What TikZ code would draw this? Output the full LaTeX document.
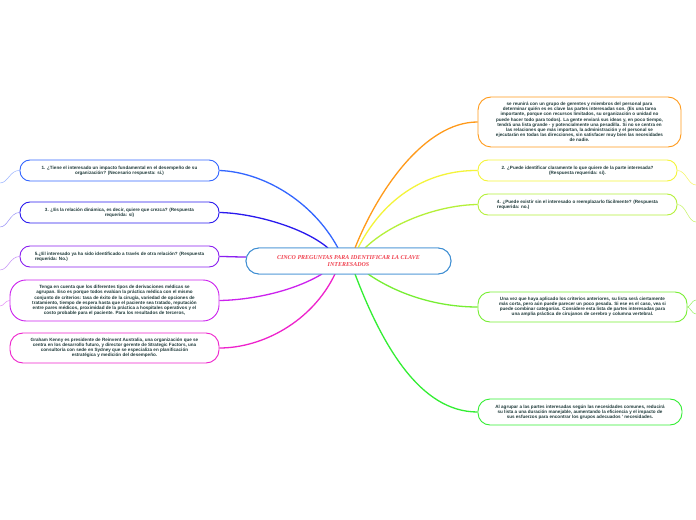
\documentclass[tikz,border=0pt]{standalone}
\usepackage{fontspec}
\setmainfont{Liberation Sans}
\newfontfamily\titlefont{Liberation Serif}
\definecolor{txt}{HTML}{1F3A3A}
\definecolor{cBorder}{HTML}{3C8DD2}
\definecolor{cTitle}{HTML}{F0404E}
\definecolor{cOrange}{HTML}{FF9A1A}
\definecolor{cYellow}{HTML}{F4F43A}
\definecolor{cLime}{HTML}{B5F03A}
\definecolor{cLgreen}{HTML}{77EE33}
\definecolor{cGreen}{HTML}{33EE33}
\definecolor{cBlue}{HTML}{3366FF}
\definecolor{cIndigo}{HTML}{2A1AEE}
\definecolor{cViolet}{HTML}{8A1FF0}
\definecolor{cMagenta}{HTML}{CC22EE}
\definecolor{cPink}{HTML}{EE22CC}
\tikzset{
  topic/.style={draw, rounded corners=10bp, line width=0.9bp, fill=white, inner sep=0pt,
     text=txt, font=\bfseries\fontsize{4.6}{5.2}\selectfont, align=center},
  title/.style={topic, draw=cBorder, minimum width=205bp, minimum height=26bp, rounded corners=13bp,
     font=\titlefont\bfseries\itshape\fontsize{6}{7.6}\selectfont, text=cTitle},
  edge/.style={line width=1.3bp},
  stub/.style={line width=0.5bp, opacity=0.5},
}
\begin{document}
\begin{tikzpicture}[x=1bp,y=-1bp]
\useasboundingbox (0,0) rectangle (696,520);
\fill[white] (0,0) rectangle (696,520);

\coordinate (eO) at (355,248);
\coordinate (eY) at (358,248);
\coordinate (eL) at (365,248);
\coordinate (eB) at (338,248);
\coordinate (eI) at (328,248);
\coordinate (eV) at (246,257);
\coordinate (eM) at (322,274);
\coordinate (eP) at (335,274);
\coordinate (eG) at (355,274);
\coordinate (eLG) at (368,274);

\node[title] (c) at (348.5,261) {CINCO PREGUNTAS PARA IDENTIFICAR LA CLAVE\\INTERESADOS};

\node[topic, draw=cOrange, minimum width=203bp, minimum height=50bp, rounded corners=13bp] (o) at (579.5,122)
  {se reunirá con un grupo de gerentes y miembros del personal para\\
   determinar quién es es clave las partes interesadas son. (Es una tarea\\
   importante, porque con recursos limitados, su organización o unidad no\\
   puede hacer todo para todos). La gente enviará sus ideas y, en poco tiempo,\\
   tendrá una lista grande - y potencialmente una pesadilla. Si no se centra en\\
   las relaciones que más importan, la administración y el personal se\\
   ejecutarán en todas las direcciones, sin satisfacer muy bien las necesidades\\
   de nadie.};

\node[topic, draw=cYellow, minimum width=199bp, minimum height=21bp] (y) at (577.5,170.5)
  {2. ¿Puede identificar claramente lo que quiere de la parte interesada?\\(Respuesta requerida: sí).};

\node[topic, draw=cLime, minimum width=199bp, minimum height=21bp, align=left] (l) at (577.5,204.5)
  {4. ¿Puede existir sin el interesado o reemplazarlo fácilmente? (Respuesta\\requerida: no.)};

\node[topic, draw=cLgreen, minimum width=209bp, minimum height=30bp, rounded corners=12bp] (lg) at (582.5,307)
  {Una vez que haya aplicado los criterios anteriores, su lista será ciertamente\\
   más corta, pero aún puede parecer un poco pesada. Si ese es el caso, vea si\\
   puede combinar categorías. Considere esta lista de partes interesadas para\\
   una amplia práctica de cirujanos de cerebro y columna vertebral.};

\node[topic, draw=cGreen, minimum width=204bp, minimum height=26bp, rounded corners=12bp] (g) at (580,412)
  {Al agrupar a las partes interesadas según las necesidades comunes, reducirá\\
   su lista a una duración manejable, aumentando la eficiencia y el impacto de\\
   sus esfuerzos para encontrar los grupos adecuados ' necesidades.};

\node[topic, draw=cBlue, minimum width=199bp, minimum height=21bp] (b) at (119.5,170.5)
  {1. ¿Tiene el interesado un impacto fundamental en el desempeño de su\\organización? (Necesario respuesta: sí.)};

\node[topic, draw=cIndigo, minimum width=199bp, minimum height=21bp] (i) at (119.5,212.5)
  {3. ¿Es la relación dinámica, es decir, quiere que crezca? (Respuesta\\requerida: sí)};

\node[topic, draw=cViolet, minimum width=199bp, minimum height=21bp, align=left] (v) at (119.5,256.5)
  {5.¿El interesado ya ha sido identificado a través de otra relación? (Respuesta\\requerida: No.)};

\node[topic, draw=cMagenta, minimum width=209bp, minimum height=41bp, rounded corners=16bp] (m) at (114.5,300.5)
  {Tenga en cuenta que los diferentes tipos de derivaciones médicas se\\
   agrupan. Eso es porque todos evalúan la práctica médica con el mismo\\
   conjunto de criterios: tasa de éxito de la cirugía, variedad de opciones de\\
   tratamiento, tiempo de espera hasta que el paciente sea tratado, reputación\\
   entre pares médicos, proximidad de la práctica a hospitales operativos y el\\
   costo probable para el paciente. Para los resultados de terceros,};

\node[topic, draw=cPink, minimum width=209bp, minimum height=30bp, rounded corners=13bp] (p) at (114.5,348)
  {Graham Kenny es presidente de Reinvent Australia, una organización que se\\
   centra en los desarrollo futuro, y director gerente de Strategic Factors, una\\
   consultoría con sede en Sydney que se especializa en planificación\\
   estratégica y medición del desempeño.};

% connectors
\draw[edge, cOrange] (eO) .. controls (378,190) and (425,122) .. (o.west);
\draw[edge, cYellow] (eY) .. controls (385,195) and (430,170) .. (y.west);
\draw[edge, cLime] (eL) .. controls (392,222) and (440,205) .. (l.west);
\draw[edge, cLgreen] (eLG) .. controls (400,296) and (440,307) .. (lg.west);
\draw[edge, cGreen] (eG) .. controls (382,345) and (420,412) .. (g.west);
\draw[edge, cBlue] (eB) .. controls (312,200) and (262,172) .. (b.east);
\draw[edge, cIndigo] (eI) .. controls (302,226) and (250,213) .. (i.east);
\draw[edge, cViolet] (eV) .. controls (235,257) and (228,256.5) .. (v.east);
\draw[edge, cMagenta] (eM) .. controls (292,292) and (250,300) .. (m.east);
\draw[edge, cPink] (eP) .. controls (312,322) and (262,348) .. (p.east);

% stubs going off the page
\coordinate (sB) at (0,183);
\coordinate (sI) at (0,227);
\coordinate (sV) at (0,270);
\coordinate (sM) at (0,306);
\coordinate (sY) at (696,185);
\coordinate (sL) at (696,222);
\coordinate (sG1) at (696,300);
\coordinate (sG2) at (696,314);
\draw[stub, cBlue] (b.west) .. controls (10,170) and (8,183) .. (sB);
\draw[stub, cIndigo] (i.west) .. controls (10,212.5) and (8,227) .. (sI);
\draw[stub, cViolet] (v.west) .. controls (10,256.5) and (8,270) .. (sV);
\draw[stub, cMagenta] (m.west) .. controls (5,300.5) and (4,306) .. (sM);
\draw[stub, cYellow, opacity=0.8] (y.east) .. controls (686,170.5) and (688,185) .. (sY);
\draw[stub, cLime, opacity=0.8] (l.east) .. controls (686,204.5) and (688,222) .. (sL);
\draw[stub, cLgreen, opacity=0.8] (lg.east) .. controls (690,307) and (692,300) .. (sG1);
\draw[stub, cLgreen, opacity=0.8] (lg.east) .. controls (690,307) and (692,314) .. (sG2);

% centre node again, over the connector ends
\node[title] at (c) {CINCO PREGUNTAS PARA IDENTIFICAR LA CLAVE\\INTERESADOS};
\end{tikzpicture}
\end{document}
